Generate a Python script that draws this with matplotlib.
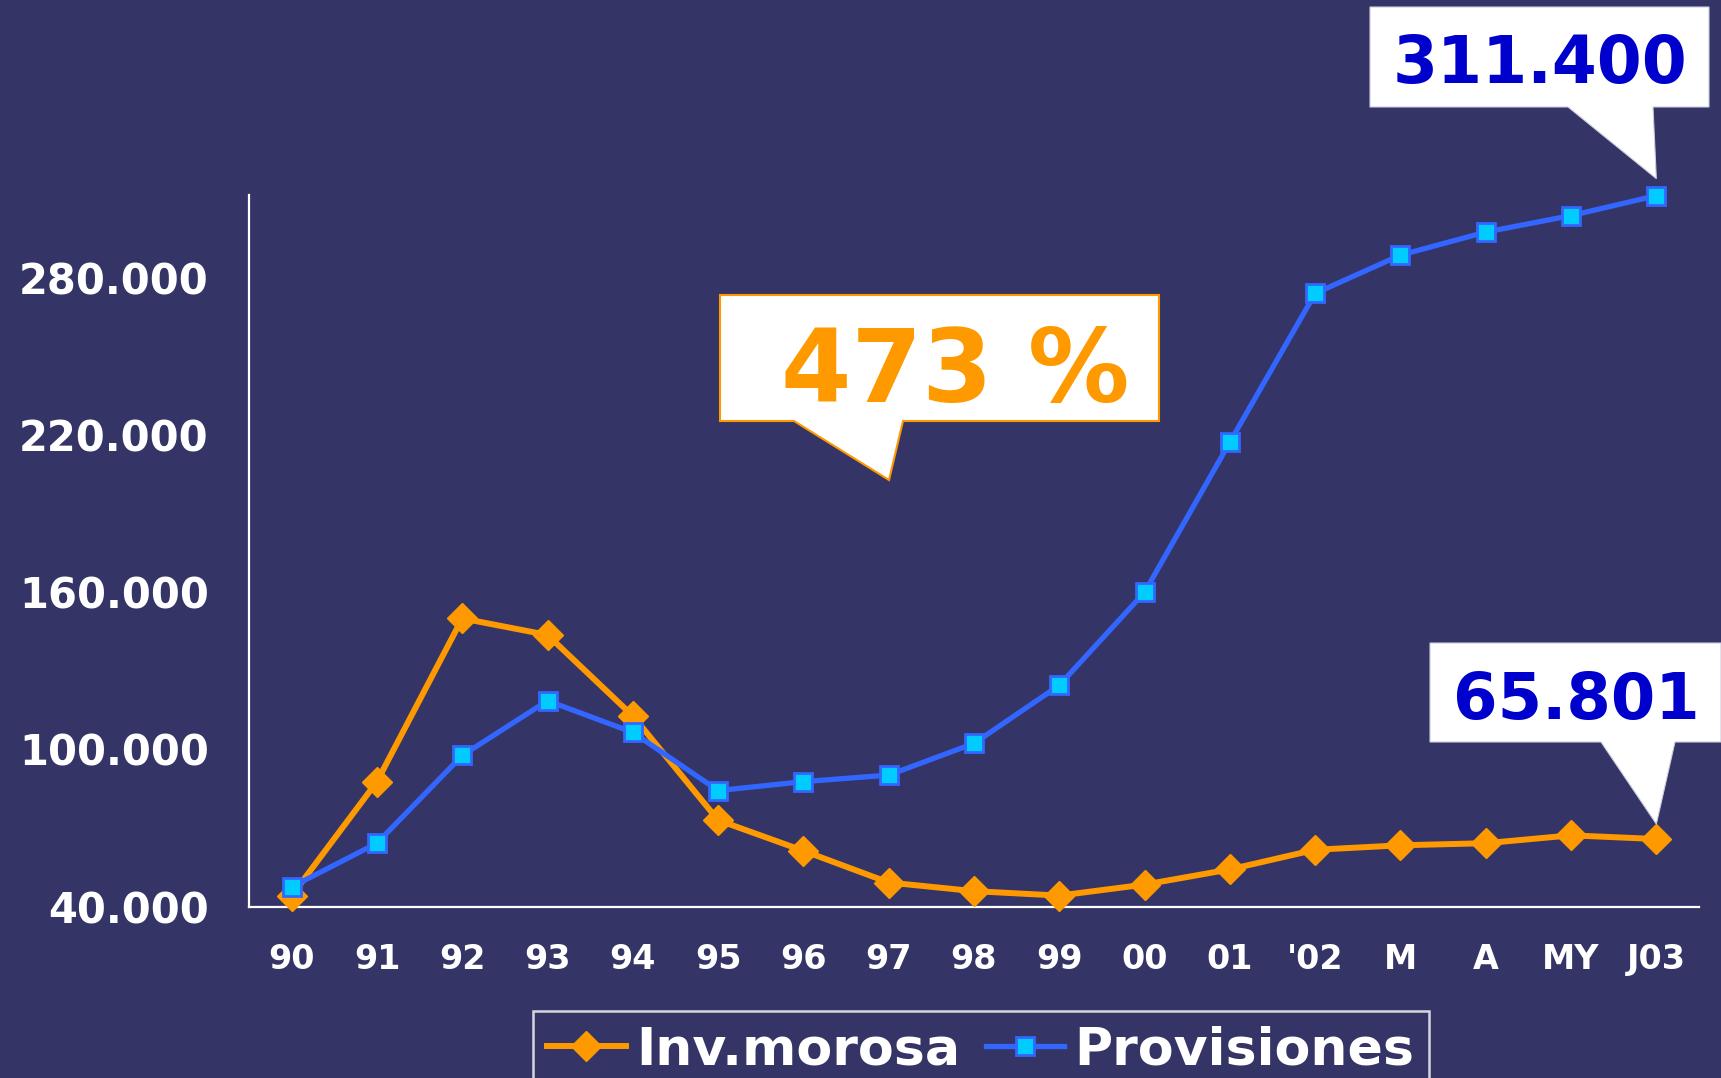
import matplotlib.pyplot as plt
from matplotlib.patches import Polygon
from matplotlib.transforms import IdentityTransform
from matplotlib.ticker import FuncFormatter

W, H = 1721, 1078
fondo = '#343466'
naranja = '#FF9900'
azul = '#3366FF'
celeste = '#00CCFF'
azul_txt = '#0000CC'

# datos (miles de euros)
periodos = ['90', '91', '92', '93', '94', '95', '96', '97', '98', '99',
            '00', '01', "'02", 'M', 'A', 'MY', 'J03']
inv_morosa = [44200, 87700, 150000, 143700, 112800, 73000, 61300, 49200,
              45900, 44200, 48400, 54200, 61700, 63400, 64200, 67200, 65801]
provisiones = [47500, 64200, 97700, 118600, 106500, 84300, 87700, 90200,
               102300, 124500, 160000, 217300, 274100, 288700, 297500,
               303800, 311400]
marcas_y = [40000, 100000, 160000, 220000, 280000]
cobertura = '473 %'

plt.rcParams['font.family'] = 'DejaVu Sans'
plt.rcParams['font.weight'] = 'bold'

fig = plt.figure(figsize=(W / 100, H / 100), dpi=100, facecolor=fondo)
ax = fig.add_axes([249 / W, 1 - 906.6 / H, (1699 - 249) / W, (906.6 - 195.4) / H])
ax.set_facecolor(fondo)

x = list(range(len(periodos)))
ax.plot(x, inv_morosa, color=naranja, lw=4.3, marker='D', ms=15,
        mfc=naranja, mec=naranja, label='Inv.morosa', clip_on=False, zorder=3)
ax.plot(x, provisiones, color=azul, lw=3.8, marker='s', ms=13,
        mfc=celeste, mec=azul, mew=2, label='Provisiones', clip_on=False, zorder=4)

ax.set_xlim(-0.5, len(periodos) - 0.5)
ax.set_ylim(40000, 311500)
ax.set_yticks(marcas_y)
ax.yaxis.set_major_formatter(FuncFormatter(lambda v, p: f'{v:,.0f}'.replace(',', '.')))
ax.set_xticks(x)
ax.set_xticklabels(periodos)
ax.tick_params(axis='y', length=0, pad=29, labelsize=30, labelcolor='white')
ax.tick_params(axis='x', length=0, pad=26, labelsize=24, labelcolor='white')

for lado in ['top', 'right']:
    ax.spines[lado].set_visible(False)
for lado in ['left', 'bottom']:
    ax.spines[lado].set_color('white')
    ax.spines[lado].set_linewidth(1.6)

leg = ax.legend(loc='upper center', bbox_to_anchor=(981 / W, 1 - 1011 / H),
                bbox_transform=fig.transFigure, ncol=2, frameon=True,
                fancybox=False, prop={'size': 37.5, 'weight': 'bold'},
                handlelength=1.5, handletextpad=0.2, columnspacing=0.5,
                borderpad=0.27, borderaxespad=0)
leg.get_frame().set_facecolor(fondo)
leg.get_frame().set_edgecolor('white')
leg.get_frame().set_linewidth(1.8)
for t in leg.get_texts():
    t.set_color('white')


def px(xp, yp):
    # pixel coords measured from the top-left corner
    return (xp, H - yp)


fig.canvas.draw()
ident = IdentityTransform()

# globo del total de provisiones
tx, ty = ax.transData.transform((x[-1], provisiones[-1]))
globo1 = [px(1370, 7), px(1709, 7), px(1709, 107), px(1653, 107),
          (tx, ty + 17), px(1568, 107), px(1370, 107)]
fig.add_artist(Polygon(globo1, closed=True, fc='white', ec='#ccccdd', lw=0.8,
                       transform=ident, zorder=10))
fig.text(1540 / W, 1 - 83 / H, f'{provisiones[-1]:,.0f}'.replace(',', '.'),
         color=azul_txt, fontsize=46.5, fontweight='bold', ha='center',
         va='baseline', zorder=11)

# globo de la inversion morosa
tx, ty = ax.transData.transform((x[-1], inv_morosa[-1]))
globo2 = [px(1430, 643), px(1721, 643), px(1721, 742), px(1675, 742),
          (tx, ty + 15), px(1601, 742), px(1430, 742)]
fig.add_artist(Polygon(globo2, closed=True, fc='white', ec='#ccccdd', lw=0.8,
                       transform=ident, zorder=10))
fig.text(1576 / W, 1 - 719 / H, f'{inv_morosa[-1]:,.0f}'.replace(',', '.'),
         color=azul_txt, fontsize=46, fontweight='bold', ha='center',
         va='baseline', zorder=11)

# globo de cobertura
globo3 = [px(720, 295), px(1159, 295), px(1159, 421), px(903, 421),
          px(889, 480), px(794, 421), px(720, 421)]
fig.add_artist(Polygon(globo3, closed=True, fc='white', ec=naranja, lw=1.5,
                       transform=ident, zorder=10))
fig.text(955 / W, 1 - 402 / H, cobertura, color=naranja, fontsize=73,
         fontweight='bold', ha='center', va='baseline', zorder=11)

fig.savefig('out.png', dpi=100, facecolor=fondo)
